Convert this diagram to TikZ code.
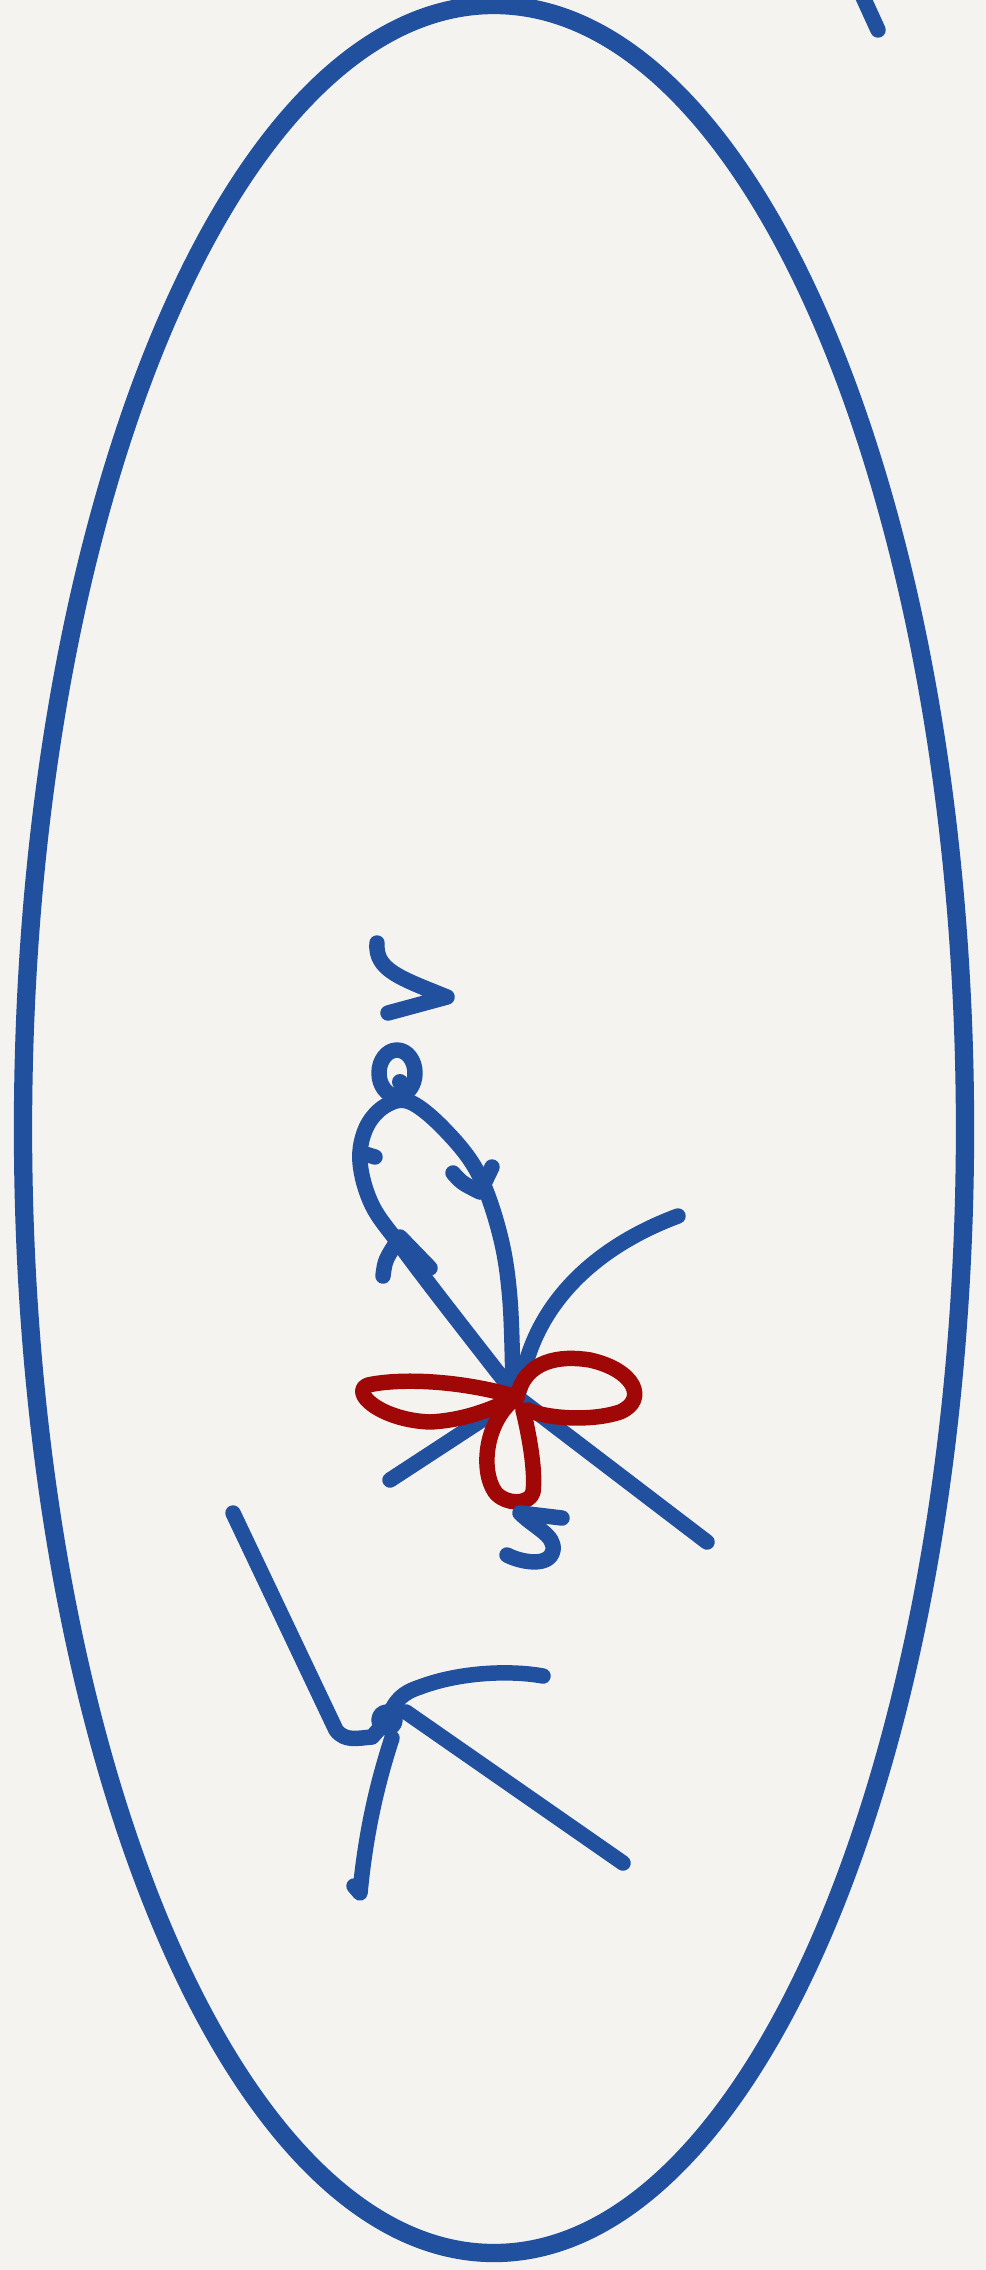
\documentclass[tikz,border=0pt]{standalone}
\usetikzlibrary{calc}
\definecolor{paper}{RGB}{244,243,239}
\definecolor{ink}{RGB}{33,80,158}
\definecolor{redink}{RGB}{160,8,8}
\tikzset{
  pen/.style={draw=ink, line width=4.4pt, line cap=round, line join=round},
  redpen/.style={draw=redink, line width=4.4pt, line cap=round, line join=round},
  outline/.style={draw=ink, line width=5.2pt}
}
\begin{document}
\begin{tikzpicture}[x=0.01cm, y=-0.01cm]
\fill[paper] (0,0) rectangle (986,2270);
\useasboundingbox (0,0) rectangle (986,2270);
% big ellipse
\coordinate (C) at (494,1129);
\draw[outline] (C) ellipse [x radius=471, y radius=1124];
% top-right stroke
\draw[pen] (862,-5) -- (878,30);
% ">" mark
\draw[pen] (377,943) .. controls (375,970) and (400,978) .. (447,997) -- (388,1013);
% small loop
\draw[pen] (397,1073) ellipse [x radius=18, y radius=23];
\fill[ink] (400,1082) circle (8);
% main loop
\coordinate (X) at (517,1397);
\draw[pen] plot[smooth, tension=0.6] coordinates {(513,1390) (510,1300) (500,1235) (478,1173) (445,1130) (410,1102) (385,1106) (366,1128) (360,1162) (372,1205) (400,1245) (440,1298) (X)} -- (707,1542);
% small tick on left side
\draw[pen] (362,1153) -- (375,1157);
% arrow heads on the loop
\draw[pen] (453,1173) .. controls (462,1183) .. (480,1192) -- (492,1167);
\draw[pen] (383,1276) .. controls (385,1260) .. (400,1237) -- (430,1268);
% curve from upper right through centre to lower left
\draw[pen] (678,1216) .. controls (600,1245) and (535,1300) .. (521,1385) -- (X) -- (390,1480);
% red flower
\draw[redpen] (X) .. controls (460,1380) and (400,1378) .. (368,1385)
   .. controls (350,1392) and (380,1420) .. (430,1422)
   .. controls (470,1420) and (500,1405) .. (X);
\draw[redpen] (X) .. controls (525,1360) and (560,1355) .. (590,1360)
   .. controls (635,1370) and (648,1400) .. (620,1412)
   .. controls (590,1422) and (545,1418) .. (528,1410);
\draw[redpen] (X) .. controls (485,1420) and (480,1470) .. (495,1492)
   .. controls (505,1505) and (530,1505) .. (533,1492)
   .. controls (536,1470) and (528,1430) .. (523,1410);
% "S" mark below
\draw[pen] (562,1518) -- (520,1513) .. controls (535,1528) and (555,1535) .. (553,1550)
   .. controls (550,1568) and (520,1562) .. (507,1555);
% lower figure
\coordinate (J) at (387,1720);
\draw[pen] (233,1513) -- (336,1730) .. controls (345,1742) and (358,1738) .. (372,1737) -- (J);
\draw[pen] (J) circle (8);
\fill[ink] (385,1722) circle (7);
\draw[pen] (J) .. controls (395,1700) and (402,1693) .. (420,1687)
   .. controls (460,1672) and (510,1670) .. (543,1676);
\draw[pen] (406,1712) -- (623,1863);
\draw[pen] (392,1738) .. controls (375,1790) and (365,1840) .. (360,1893) -- (354,1886);
\end{tikzpicture}
\end{document}
